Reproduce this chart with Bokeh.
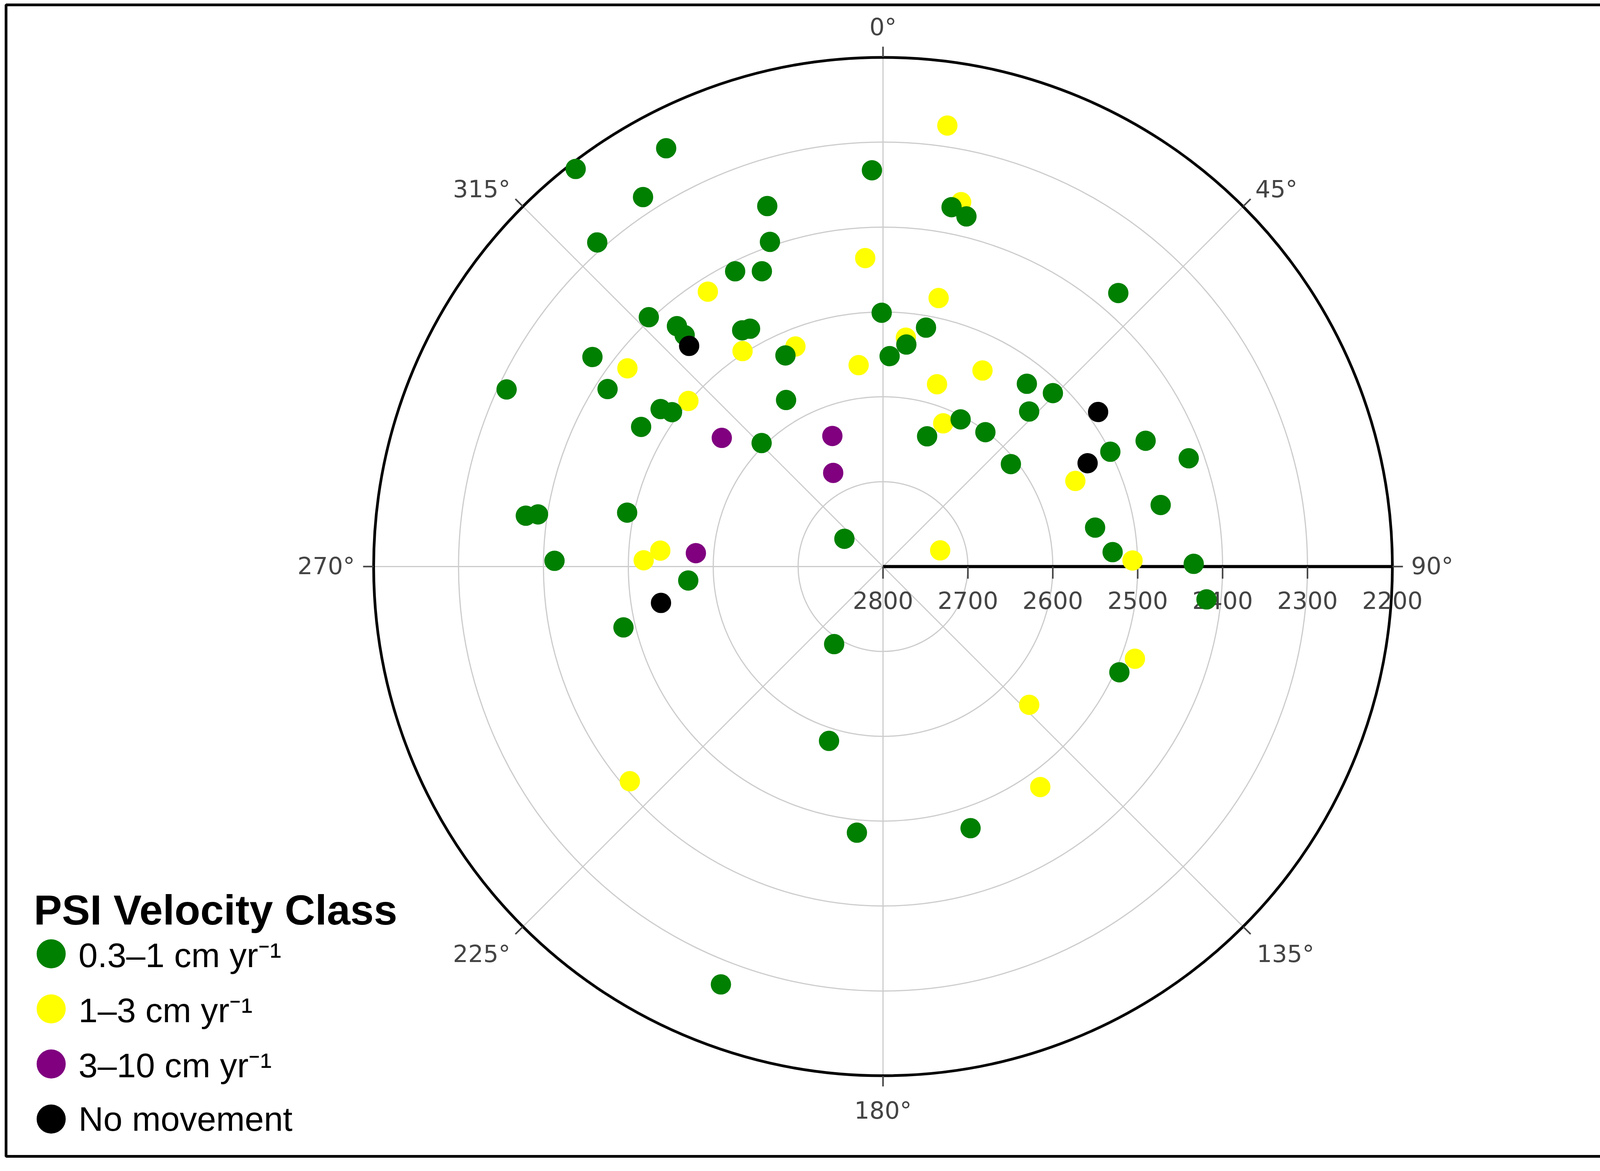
import math
from bokeh.plotting import figure
from bokeh.models import Range1d, Legend, LegendItem, Label
from bokeh.embed import file_html
from bokeh.resources import INLINE
from bokeh.core.properties import value

# ---------------- data (azimuth in degrees clockwise from north, elevation in m) ----------------
green_azimuth = [332.6, 322.3, 327.0, 342.2, 318.6, 340.8, 333.4, 337.7, 358.4, 316.8,
                 319.4, 319.4, 329.2, 330.8, 335.2, 359.7, 1.8, 305.8, 302.8, 295.2,
                 305.3, 306.2, 300.0, 329.8, 315.5, 278.1, 278.6, 281.9, 271.0, 305.7,
                 10.8, 13.4, 40.7, 10.2, 6.0, 38.2, 44.4, 43.3, 27.8, 18.7,
                 37.3, 51.3, 64.4, 63.2, 70.5, 77.5, 79.6, 86.4, 89.5,
                 265.9, 256.8, 212.2, 197.2, 185.6, 201.2,
                 95.8, 114.1, 161.5]
green_elevation = [2245, 2208, 2281, 2354, 2291, 2395, 2411, 2424, 2333, 2397,
                   2427, 2441, 2476, 2479, 2526, 2501, 2552, 2378, 2414, 2310,
                   2479, 2492, 2471, 2573, 2596, 2375, 2389, 2492, 2413, 2744,
                   2369, 2376, 2375, 2514, 2537, 2526, 2514, 2549, 2604, 2638,
                   2601, 2607, 2457, 2500, 2418, 2465, 2546, 2529, 2434,
                   2570, 2486, 2692, 2585, 2485, 2272,
                   2417, 2495, 2475]

yellow_azimuth = [356.7, 327.5, 326.9, 338.3, 353.1, 307.8, 310.4, 274.1, 271.5,
                  8.3, 12.1, 11.7, 5.7, 26.9, 16.5, 22.8, 66.0, 74.2, 88.6,
                  229.7, 110.1, 133.4, 144.5]
yellow_elevation = [2436, 2416, 2497, 2521, 2561, 2419, 2499, 2537, 2518,
                    2275, 2361, 2477, 2529, 2541, 2576, 2617, 2552, 2730, 2506,
                    2409, 2484, 2563, 2481]

purple_azimuth = [308.6, 338.8, 332.0, 274.1]
purple_elevation = [2557, 2635, 2675, 2579]

black_azimuth = [318.7, 54.3, 63.2, 260.7]
black_elevation = [2454, 2488, 2530, 2535]

radial_ticks = [2800, 2700, 2600, 2500, 2400, 2300, 2200]
angular_ticks = [0, 45, 90, 135, 180, 225, 270, 315]
angular_labels = [f"{a}°" for a in angular_ticks]

legend_title = "PSI Velocity Class"
class_labels = ["0.3–1 cm yr⁻¹", "1–3 cm yr⁻¹", "3–10 cm yr⁻¹", "No movement"]
class_colors = ["#008000", "#ffff00", "#800080", "#000000"]

R_CENTER = radial_ticks[0]
R_OUTER = radial_ticks[-1]
R_SPAN = R_CENTER - R_OUTER

# ---------------- layout ----------------
W, H = 4243, 2982
FL, FR, FT, FB = 15, 20, 12, 22
FW, FH = W - FL - FR, H - FT - FB
CX, CY = 2245, 1438          # polar centre in frame pixels (from left / top)
K = 1304.0 / R_SPAN          # pixels per metre of radius


def polar(az, elev):
    r = R_CENTER - elev
    t = math.radians(az)
    return r * math.sin(t), r * math.cos(t)


def xy(az_list, el_list):
    pts = [polar(a, e) for a, e in zip(az_list, el_list)]
    return [q[0] for q in pts], [q[1] for q in pts]


p = figure(width=W, height=H, output_backend="svg", toolbar_location=None,
           x_range=Range1d(-CX / K, (FW - CX) / K),
           y_range=Range1d(-(FH - CY) / K, CY / K),
           x_axis_location=None, y_axis_location=None, title=None,
           min_border_left=FL, min_border_right=FR,
           min_border_top=FT, min_border_bottom=FB)
p.grid.visible = False
p.background_fill_color = "white"
p.border_fill_color = "white"
p.outline_line_color = "black"
p.outline_line_width = 7

GRID = "#cccccc"
TICKC = "#444444"

# rings
ring_r = [R_CENTER - v for v in radial_ticks[1:-1]]
p.circle(x=[0] * len(ring_r), y=[0] * len(ring_r), radius=ring_r,
         fill_color=None, line_color=GRID, line_width=3)

# spokes
sx1 = [R_SPAN * math.sin(math.radians(a)) for a in angular_ticks]
sy1 = [R_SPAN * math.cos(math.radians(a)) for a in angular_ticks]
p.segment(x0=[0] * len(sx1), y0=[0] * len(sx1), x1=sx1, y1=sy1,
          line_color=GRID, line_width=3)

# outer circle
p.circle(x=[0], y=[0], radius=[R_SPAN], fill_color=None, line_color="black", line_width=7)

# angular ticks outside the circle
tl = 27 / K
p.segment(x0=[R_SPAN * math.sin(math.radians(a)) for a in angular_ticks],
          y0=[R_SPAN * math.cos(math.radians(a)) for a in angular_ticks],
          x1=[(R_SPAN + tl) * math.sin(math.radians(a)) for a in angular_ticks],
          y1=[(R_SPAN + tl) * math.cos(math.radians(a)) for a in angular_ticks],
          line_color=TICKC, line_width=4)

# radial axis line (along 90°)
p.segment(x0=[0], y0=[0], x1=[R_SPAN], y1=[0], line_color="black", line_width=8)

# radial ticks
rt = [R_CENTER - v for v in radial_ticks[:-1]]
p.segment(x0=rt, y0=[0] * len(rt), x1=rt, y1=[-31 / K] * len(rt),
          line_color=TICKC, line_width=4)

# radial tick labels
p.text(x=[R_CENTER - v for v in radial_ticks], y=[-86 / K] * len(radial_ticks),
       text=[str(v) for v in radial_ticks], text_align="center", text_baseline="middle",
       text_font=value("DejaVu Sans"), text_font_size="61px", text_color=TICKC)

# angular tick labels (offsets in pixels from centre)
ang_off = {0: (0, 1382, "center"), 45: (953, 967, "left"), 90: (1352, 2, "left"),
           135: (957, -991, "left"), 180: (0, -1392, "center"), 225: (-954, -991, "right"),
           270: (-1352, 2, "right"), 315: (-954, 967, "right")}
for a, lab in zip(angular_ticks, angular_labels):
    dx, dy, al = ang_off[a]
    p.add_layout(Label(x=dx / K, y=dy / K, text=lab, text_align=al, text_baseline="middle",
                       text_font="DejaVu Sans", text_font_size="61px", text_color=TICKC))

# data points (filled disc of 52 px: 34 px marker + 18 px outline of the same colour)
SIZE, LW = 34, 18
gx, gy = xy(green_azimuth, green_elevation)
yx, yy = xy(yellow_azimuth, yellow_elevation)
px_, py_ = xy(purple_azimuth, purple_elevation)
bx, by = xy(black_azimuth, black_elevation)
r_y = p.scatter(yx, yy, size=SIZE, fill_color=class_colors[1], line_color=class_colors[1], line_width=LW)
r_g = p.scatter(gx, gy, size=SIZE, fill_color=class_colors[0], line_color=class_colors[0], line_width=LW)
r_p = p.scatter(px_, py_, size=SIZE, fill_color=class_colors[2], line_color=class_colors[2], line_width=LW)
r_b = p.scatter(bx, by, size=SIZE, fill_color=class_colors[3], line_color=class_colors[3], line_width=LW)

# legend
legend = Legend(items=[LegendItem(label=class_labels[0], renderers=[r_g]),
                       LegendItem(label=class_labels[1], renderers=[r_y]),
                       LegendItem(label=class_labels[2], renderers=[r_p]),
                       LegendItem(label=class_labels[3], renderers=[r_b])],
                location=(45, 25), orientation="vertical",
                glyph_width=141, glyph_height=141, spacing=0, label_standoff=0,
                margin=0, padding=0, border_line_color=None, background_fill_color=None,
                label_text_font="Liberation Sans", label_text_font_size="88px",
                label_text_color="black")
p.add_layout(legend)

p.add_layout(Label(x=(71 - CX) / K, y=(CY - 2317) / K, text=legend_title,
                   text_align="left", text_baseline="alphabetic",
                   text_font="Liberation Sans", text_font_style="bold",
                   text_font_size="108px", text_color="black"))

open("out.html", "w").write(file_html(p, INLINE))
